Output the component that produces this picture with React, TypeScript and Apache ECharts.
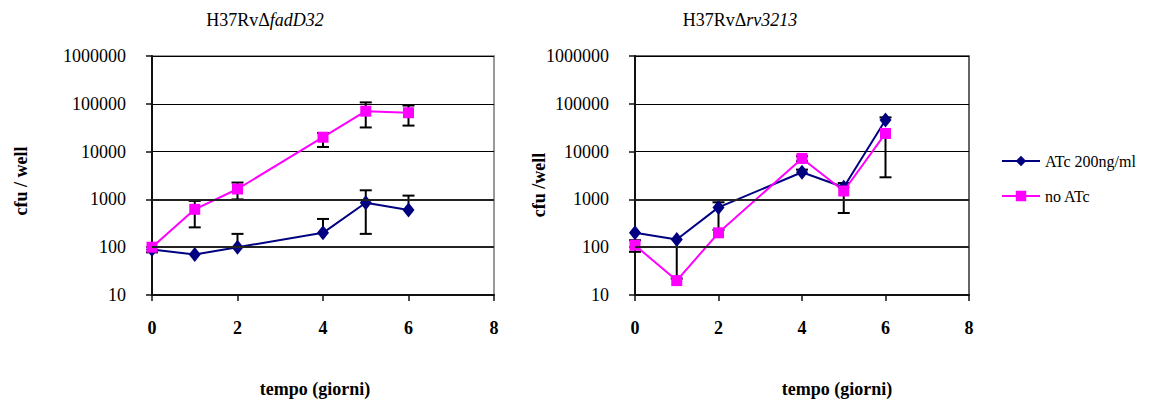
import React, { useEffect, useRef } from "react";
import * as echarts from "echarts";

const days = [0, 1, 2, 4, 5, 6];
const xTicks = [0, 2, 4, 6, 8];
const yTicks = [10, 100, 1000, 10000, 100000, 1000000];

// H37RvΔfadD32
const fadAtc = [90, 70, 100, 200, 850, 600];
const fadAtcHi = [null, null, 190, 390, 1550, 1200];
const fadAtcLo = [78, null, null, null, 190, null];
const fadNo = [100, 620, 1650, 20000, 70000, 65000];
const fadNoHi = [null, 930, 2250, 24500, 107000, 92000];
const fadNoLo = [null, 260, 1000, 12500, 32000, 35000];

// H37RvΔrv3213
const rvAtc = [200, 145, 680, 3700, 1800, 46000];
const rvAtcHi = [null, null, 870, 4200, 2200, 52000];
const rvAtcLo = [null, 22, 230, null, null, null];
const rvNo = [110, 20, 200, 7200, 1500, 24000];
const rvNoHi = [140, null, null, 8000, null, null];
const rvNoLo = [80, null, null, 6300, 520, 2900];

const SERIF = "'Liberation Serif', 'Times New Roman', serif";
const NAVY = "#000080";
const MAGENTA = "#FF00FF";

function errData(vals: number[], hi: (number | null)[], lo: (number | null)[]) {
  const out: any[] = [];
  vals.forEach((v, i) => {
    if (hi[i] == null && lo[i] == null) return;
    out.push([days[i], lo[i] ?? v, hi[i] ?? v, lo[i] != null ? 1 : 0, hi[i] != null ? 1 : 0]);
  });
  return out;
}

function renderErr(params: any, api: any) {
  const x = api.value(0);
  const pLo = api.coord([x, api.value(1)]);
  const pHi = api.coord([x, api.value(2)]);
  const w = 6;
  const st = { stroke: "#000", lineWidth: 2 };
  const children: any[] = [
    { type: "line", shape: { x1: pLo[0], y1: pLo[1], x2: pHi[0], y2: pHi[1] }, style: st },
  ];
  if (api.value(3)) children.push({ type: "line", shape: { x1: pLo[0] - w, y1: pLo[1], x2: pLo[0] + w, y2: pLo[1] }, style: st });
  if (api.value(4)) children.push({ type: "line", shape: { x1: pHi[0] - w, y1: pHi[1], x2: pHi[0] + w, y2: pHi[1] }, style: st });
  return { type: "group", children };
}

function pairs(vals: number[]) {
  return vals.map((v, i) => [days[i], v]);
}

export default function App() {
  const ref = useRef<HTMLDivElement>(null);
  useEffect(() => {
    if (!ref.current) return;
    const chart = echarts.init(ref.current, null, { renderer: "svg" });
    const xAxisBase = (gi: number) => ({
      type: "value",
      gridIndex: gi,
      min: 0,
      max: 8,
      interval: 2,
      axisLine: { show: true, lineStyle: { color: "#111", width: 2 } },
      axisTick: { show: true, length: 6, lineStyle: { color: "#111", width: 1.5 } },
      axisLabel: {
        margin: 24,
        fontFamily: SERIF,
        fontSize: 18,
        fontWeight: "bold",
        color: "#000",
        formatter: (v: number) => (xTicks.includes(v) ? String(v) : ""),
      },
      splitLine: { show: false },
    });
    const yAxisBase = (gi: number) => ({
      type: "log",
      logBase: 10,
      gridIndex: gi,
      min: yTicks[0],
      max: yTicks[yTicks.length - 1],
      axisLine: { show: true, lineStyle: { color: "#111", width: 2 } },
      axisTick: { show: true, length: 6, lineStyle: { color: "#111", width: 1.5 } },
      minorTick: { show: false },
      axisLabel: {
        margin: 26,
        fontFamily: SERIF,
        fontSize: 18,
        color: "#000",
        formatter: (v: number) => String(Math.round(v)),
      },
      splitLine: { show: true, lineStyle: { color: "#000", width: 1 } },
    });
    const thick = {
      silent: true,
      symbol: "none",
      label: { show: false },
      lineStyle: { color: "#222", width: 2, type: "solid" },
      data: [{ yAxis: 1000 }, { yAxis: 100 }],
    };
    const lineSeries = (name: string, gi: number, vals: number[], color: string, sym: string, size: any, extra: any = {}) => ({
      type: "line",
      name,
      xAxisIndex: gi,
      yAxisIndex: gi,
      data: pairs(vals),
      symbol: sym,
      symbolSize: size,
      itemStyle: { color },
      lineStyle: { color, width: 2 },
      z: 3,
      ...extra,
    });
    const errSeries = (gi: number, data: any[]) => ({
      type: "custom",
      xAxisIndex: gi,
      yAxisIndex: gi,
      renderItem: renderErr,
      data,
      encode: { x: 0, y: [1, 2] },
      z: 2,
      silent: true,
    });
    const title = (x: number, italic: string) => ({
      type: "text",
      x,
      y: 20,
      style: {
        text: `{n|H37RvΔ}{i|${italic}}`,
        align: "center",
        verticalAlign: "middle",
        rich: {
          n: { fontFamily: SERIF, fontSize: 18, fill: "#000" },
          i: { fontFamily: SERIF, fontSize: 18, fontStyle: "italic", fill: "#000" },
        },
      },
    });
    const txt = (text: string, x: number, y: number, rot = 0) => ({
      type: "text",
      x,
      y,
      rotation: rot,
      style: {
        text,
        align: "center",
        verticalAlign: "middle",
        fontFamily: SERIF,
        fontSize: 18,
        fontWeight: "bold",
        fill: "#000",
      },
    });
    chart.setOption({
      animation: false,
      backgroundColor: "#fff",
      textStyle: { fontFamily: SERIF },
      grid: [
        { left: 152, top: 56, width: 342, height: 239, show: true, backgroundColor: "#fff", borderColor: "#999", borderWidth: 2 },
        { left: 635, top: 56, width: 334, height: 239, show: true, backgroundColor: "#fff", borderColor: "#333", borderWidth: 1.5 },
      ],
      xAxis: [xAxisBase(0), xAxisBase(1)],
      yAxis: [yAxisBase(0), yAxisBase(1)],
      legend: {
        orient: "vertical",
        left: 996,
        top: 148,
        itemWidth: 38,
        itemHeight: 13,
        itemGap: 19,
        textStyle: { fontFamily: SERIF, fontSize: 16, color: "#000" },
        data: ["ATc 200ng/ml", "no ATc"],
      },
      graphic: [
        title(265, "fadD32"),
        title(740, "rv3213"),
        txt("cfu / well", 21, 181, Math.PI / 2),
        txt("cfu /well", 539, 185, Math.PI / 2),
        txt("tempo (giorni)", 315, 389),
        txt("tempo (giorni)", 837, 389),
      ],
      series: [
        errSeries(0, errData(fadAtc, fadAtcHi, fadAtcLo)),
        errSeries(0, errData(fadNo, fadNoHi, fadNoLo)),
        errSeries(1, errData(rvAtc, rvAtcHi, rvAtcLo)),
        errSeries(1, errData(rvNo, rvNoHi, rvNoLo)),
        lineSeries("ATc 200ng/ml", 0, fadAtc, NAVY, "diamond", [12, 15], { markLine: thick }),
        lineSeries("no ATc", 0, fadNo, MAGENTA, "rect", 11),
        lineSeries("ATc 200ng/ml", 1, rvAtc, NAVY, "diamond", [12, 15], { markLine: thick }),
        lineSeries("no ATc", 1, rvNo, MAGENTA, "rect", 11),
      ],
    });
    return () => chart.dispose();
  }, []);
  return <div ref={ref} style={{ position: "absolute", left: 0, top: 0, width: 1152, height: 400 }} />;
}
